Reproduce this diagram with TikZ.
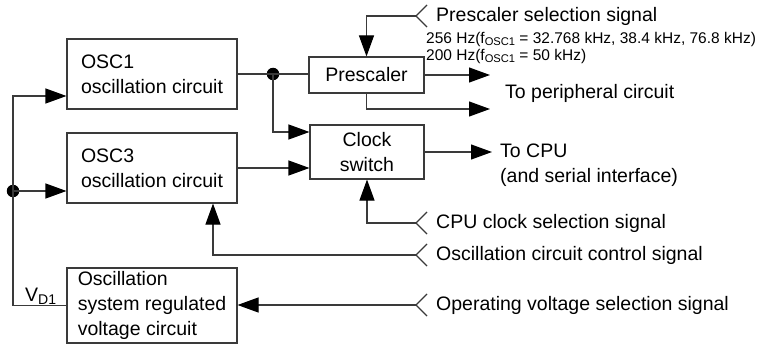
\documentclass[tikz,border=0pt]{standalone}
\usepackage{fontspec}
\setmainfont{Liberation Sans}
\usepackage{xcolor}
\usepackage{tikz}
\usetikzlibrary{
  arrows.meta,
  positioning,
  calc
}
\definecolor{ckLine}{HTML}{3A3A3A}
\newcommand{\ckfont}{\fontsize{19.5}{25}\selectfont}
\newcommand{\cksmall}{\fontsize{15.5}{17}\selectfont}
\newcommand{\cksub}[1]{\raisebox{-0.3ex}{\scalebox{0.72}{#1}}}
\tikzset{
  ckbox/.style={
    draw=ckLine, line width=1.1pt, align=left, font=\ckfont, inner sep=0pt
  },
  ckwire/.style={draw=ckLine, line width=1.1pt},
  ckarrow/.style={ckwire, -{Triangle[length=21pt, width=15pt, fill=black, color=black]}},
  ckdot/.style={circle, fill=black, inner sep=0pt, minimum size=12.5pt},
  cklabel/.style={font=\ckfont, anchor=west, inner sep=0pt, align=left},
  cknote/.style={font=\cksmall, anchor=west, inner sep=0pt}
}

\begin{document}
\begin{tikzpicture}[x=1pt, y=-1pt]
  \useasboundingbox (0,0) rectangle (769,345);
  % blocks
  \node[ckbox, minimum width=170pt, minimum height=70pt] (osc1) at (152,74) {OSC1\\oscillation circuit};
  \node[ckbox, minimum width=170pt, minimum height=70pt] (osc3) at (152,168) {OSC3\\oscillation circuit};
  \node[ckbox, minimum width=170pt, minimum height=75pt] (reg) at (152,305.5) {Oscillation\\system regulated\\voltage circuit};
  \node[ckbox, align=center, minimum width=115pt, minimum height=36pt] (pre) at (366.5,75) {Prescaler};
  \node[ckbox, align=center, minimum width=114pt, minimum height=54pt] (clk) at (367,152) {Clock\\switch};
  \node[ckdot] (dotA) at (13,191) {};
  \node[ckdot] (dotB) at (273,74) {};
  \node[font=\ckfont, anchor=base west, inner sep=0pt] (vd) at (25,301) {V\cksub{D1}};
  % signal ends
  \coordinate (selPre) at (416,16);
  \coordinate (selCpu) at (416,223);
  \coordinate (selOsc) at (416,255);
  \coordinate (selVol) at (416,305);
  \coordinate (perA) at (490,75);
  \coordinate (perB) at (490,109);
  \coordinate (cpuEnd) at (492,152);
  \foreach \c in {selPre,selCpu,selOsc,selVol}{
    \draw[ckwire] (\c) ++(11,-11) -- (\c) -- ++(11,11);
  }
  % supply and clock wires
  \draw[ckarrow] (reg.west) -| (dotA.center) |- ($(osc1.west)+(0,22)$);
  \draw[ckarrow] (dotA.center) -- (dotA.center -| osc3.west);
  \draw[ckwire] (osc1.east) -- (osc1.east -| pre.west);
  \draw[ckarrow] (dotB.center) |- ($(clk.west)+(0,-20)$);
  \draw[ckarrow] (osc3.east) -- (osc3.east -| clk.west);
  \draw[ckarrow] (pre.east) -- (perA);
  \draw[ckarrow] (pre.south) |- (perB);
  \draw[ckarrow] (clk.east) -- (cpuEnd);
  \draw[ckarrow] (selPre) -| (pre.north);
  \draw[ckarrow] (selCpu) -| (clk.south);
  \draw[ckarrow] (selOsc) -| ($(osc3.south)+(61,0)$);
  \draw[ckarrow] (selVol) -- (selVol -| reg.east);
  % texts
  \node[cklabel] (perTxt) at (505,93) {To peripheral circuit};
  \node[cklabel] (cpuTxt) at (500,165.5) {To CPU\\(and serial interface)};
  \node[cklabel] (preTxt) at (436,16) {Prescaler selection signal};
  \node[cknote] (hzA) at (426,39) {256 Hz(f\cksub{OSC1} = 32.768 kHz, 38.4 kHz, 76.8 kHz)};
  \node[cknote] (hzB) at (426,56) {200 Hz(f\cksub{OSC1} = 50 kHz)};
  \node[cklabel] (cpuSel) at (436,223) {CPU clock selection signal};
  \node[cklabel] (oscSel) at (436,255) {Oscillation circuit control signal};
  \node[cklabel] (volSel) at (436,305) {Operating voltage selection signal};
\end{tikzpicture}
\end{document}
